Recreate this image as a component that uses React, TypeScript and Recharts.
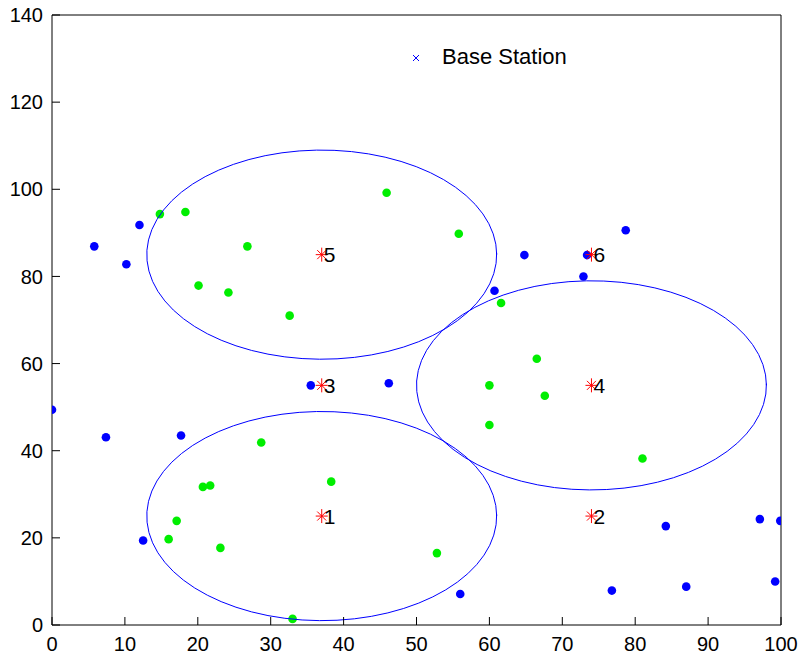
import { ScatterChart, Scatter, XAxis, YAxis, Legend } from "recharts"

// sensor nodes outside any cluster (blue)
const blueX = [0, 5.8, 10.2, 12.0, 7.4, 17.7, 12.5, 35.5, 46.2, 64.8, 60.7, 72.9, 73.4, 78.7, 56.0, 76.8, 84.2, 87.0, 97.1, 99.9, 99.2]
const blueY = [49.4, 86.9, 82.8, 91.8, 43.1, 43.5, 19.4, 55.0, 55.5, 84.9, 76.7, 80.0, 84.9, 90.6, 7.1, 7.9, 22.7, 8.8, 24.3, 23.9, 10.0]

// nodes inside a cluster (green)
const greenX = [14.8, 18.3, 26.8, 20.1, 24.2, 32.6, 45.9, 55.8, 61.6, 28.7, 20.7, 21.7, 38.3, 17.1, 16.0, 23.1, 33.0, 52.8, 66.5, 60.0, 67.6, 60.0, 81.0]
const greenY = [94.3, 94.8, 86.9, 77.9, 76.3, 71.0, 99.2, 89.8, 73.9, 41.9, 31.7, 32.0, 32.9, 23.9, 19.7, 17.7, 1.4, 16.5, 61.1, 55.0, 52.6, 45.9, 38.2]

// candidate cluster heads (red stars)
const headIds = [1, 2, 3, 4, 5, 6]
const headX = [37, 74, 37, 74, 37, 74]
const headY = [25, 25, 55, 55, 85, 85]

// active clusters + radius
const activeHeads = [1, 4, 5]
const clusterRadius = 24

const xTicks = [0, 10, 20, 30, 40, 50, 60, 70, 80, 90, 100]
const yTicks = [0, 20, 40, 60, 80, 100, 120, 140]

const blue = blueX.map((x, i) => ({ x, y: blueY[i] }))
const green = greenX.map((x, i) => ({ x, y: greenY[i] }))
const heads = headIds.map((id, i) => ({ id, x: headX[i], y: headY[i] }))

// circle outline round a head, like t = 0:0.1:2*pi
const circleAround = (id: number) => {
  const h = heads.find((d) => d.id === id)!
  const pts: { x: number; y: number }[] = []
  for (let t = 0; t <= 2 * Math.PI + 0.1; t += 0.1) {
    pts.push({ x: h.x + clusterRadius * Math.cos(t), y: h.y + clusterRadius * Math.sin(t) })
  }
  return pts
}

const font = "'Liberation Sans', Arial, sans-serif"
const TICK = 8
const XM = 12
const YM = 9

// bottom tick: label outside, tick line pointing into the plot
const BottomTick = (props: any) => {
  const { x, y, payload } = props
  const axisY = y - XM
  return (
    <g>
      <line x1={x} y1={axisY} x2={x} y2={axisY - TICK} stroke="#000" />
      <text x={x} y={y} dy="0.71em" textAnchor="middle" fontSize={20} fontFamily={font} fill="#000">
        {payload.value}
      </text>
    </g>
  )
}

const LeftTick = (props: any) => {
  const { x, y, payload } = props
  const axisX = x + YM
  return (
    <g>
      <line x1={axisX} y1={y} x2={axisX + TICK} y2={y} stroke="#000" />
      <text x={x} y={y} dy="0.355em" textAnchor="end" fontSize={20} fontFamily={font} fill="#000">
        {payload.value}
      </text>
    </g>
  )
}

const Dot = (color: string) => (props: any) => (
  <circle cx={props.cx} cy={props.cy} r={4.3} fill={color} />
)

const Star = (props: any) => {
  const { cx, cy, payload } = props
  const s = 6
  const d = 4.5
  return (
    <g>
      <g stroke="#ff0000" strokeWidth={1}>
        <line x1={cx - s} y1={cy} x2={cx + s} y2={cy} />
        <line x1={cx} y1={cy - s - 1} x2={cx} y2={cy + s + 1} />
        <line x1={cx - d} y1={cy - d} x2={cx + d} y2={cy + d} />
        <line x1={cx - d} y1={cy + d} x2={cx + d} y2={cy - d} />
      </g>
      <text x={cx + 2} y={cy} dy="0.36em" fontSize={21} fontFamily={font} fill="#000">
        {payload.id}
      </text>
    </g>
  )
}

const Empty = () => <g />

const renderLegend = () => (
  <div style={{ display: "flex", alignItems: "center", fontFamily: font, fontSize: 22, color: "#000", lineHeight: "24px" }}>
    <svg width={40} height={20}>
      <g stroke="#0000ff" strokeWidth={1}>
        <line x1={11} y1={8} x2={17} y2={14} />
        <line x1={11} y1={14} x2={17} y2={8} />
      </g>
    </svg>
    <span>Base Station</span>
  </div>
)

export default function App() {
  return (
    <div style={{ position: "absolute", left: 0, top: 0, background: "#fff" }}>
      <ScatterChart width={800} height={658} margin={{ top: 15, right: 19, left: 0, bottom: 0 }}>
        <XAxis
          type="number"
          dataKey="x"
          xAxisId="b"
          domain={[0, 100]}
          ticks={xTicks}
          allowDataOverflow
          height={33}
          tickSize={0}
          tickLine={false}
          tickMargin={XM}
          stroke="#000"
          tick={BottomTick}
        />
        <XAxis
          type="number"
          dataKey="x"
          xAxisId="t"
          orientation="top"
          mirror
          height={1}
          domain={[0, 100]}
          ticks={xTicks}
          allowDataOverflow
          tickSize={TICK}
          tick={false}
          stroke="#000"
        />
        <YAxis
          type="number"
          dataKey="y"
          yAxisId="l"
          domain={[0, 140]}
          ticks={yTicks}
          allowDataOverflow
          width={52}
          tickSize={0}
          tickLine={false}
          tickMargin={YM}
          stroke="#000"
          tick={LeftTick}
        />
        <YAxis
          type="number"
          dataKey="y"
          yAxisId="r"
          orientation="right"
          mirror
          width={1}
          domain={[0, 140]}
          ticks={yTicks}
          allowDataOverflow
          tickSize={TICK}
          tick={false}
          stroke="#000"
        />
        <Legend
          verticalAlign="middle"
          align="center"
          layout="horizontal"
          content={renderLegend}
          wrapperStyle={{ left: 402, top: 45, width: 220 }}
        />
        <Scatter xAxisId="b" yAxisId="l" data={blue} shape={Dot("#0000ff")} isAnimationActive={false} legendType="none" />
        <Scatter xAxisId="b" yAxisId="l" data={green} shape={Dot("#00ee00")} isAnimationActive={false} legendType="none" />
        {activeHeads.map((id) => (
          <Scatter
            key={id}
            xAxisId="b"
            yAxisId="l"
            data={circleAround(id)}
            line={{ stroke: "#0000ff", strokeWidth: 1 }}
            lineJointType="linear"
            shape={Empty}
            isAnimationActive={false}
            legendType="none"
          />
        ))}
        <Scatter xAxisId="b" yAxisId="l" data={heads} shape={Star} isAnimationActive={false} legendType="none" />
      </ScatterChart>
    </div>
  )
}
